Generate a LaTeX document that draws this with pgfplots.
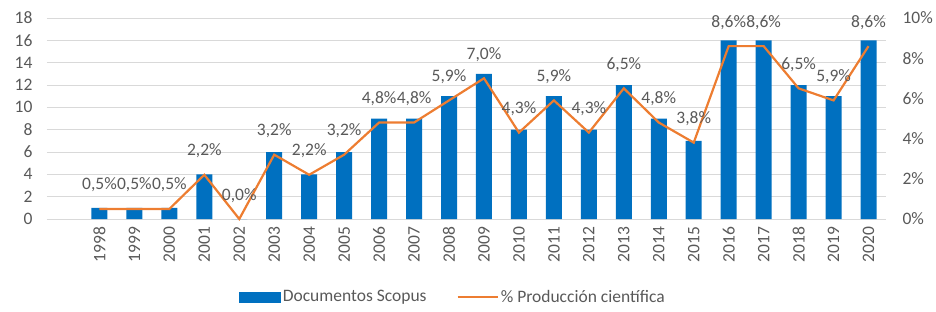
\documentclass[border=0pt]{standalone}
\usepackage{pgfplots}
\usepackage{pgfplotstable}
\pgfplotsset{compat=1.18}
\usepackage{fontspec}
\setmainfont{Carlito}
\definecolor{barblue}{HTML}{0070C0}
\definecolor{lineor}{HTML}{ED7D31}
\definecolor{txt}{HTML}{595959}
\definecolor{gridc}{HTML}{D9D9D9}

\pgfplotstableread{
x year docs pct
0 1998 1 0.5
1 1999 1 0.5
2 2000 1 0.5
3 2001 4 2.2
4 2002 0 0.0
5 2003 6 3.2
6 2004 4 2.2
7 2005 6 3.2
8 2006 9 4.8
9 2007 9 4.8
10 2008 11 5.9
11 2009 13 7.0
12 2010 8 4.3
13 2011 11 5.9
14 2012 8 4.3
15 2013 12 6.5
16 2014 9 4.8
17 2015 7 3.8
18 2016 16 8.6
19 2017 16 8.6
20 2018 12 6.5
21 2019 11 5.9
22 2020 16 8.6
}\data

\begin{document}
\begin{tikzpicture}[font=\fontsize{17.5}{20}\selectfont]
\useasboundingbox (0pt,0pt) rectangle (936pt,311pt);
\begin{axis}[
  at={(47pt,92pt)}, anchor=south west,
  scale only axis, width=839pt, height=201pt,
  xmin=-1.5, xmax=22.5, ymin=0, ymax=18,
  ytick={0,2,...,18},
  xtick={0,...,22},
  xticklabels from table={\data}{year},
  axis x line*=bottom, axis y line*=left,
  x axis line style={draw=gridc, line width=1pt, -},
  y axis line style={draw=none},
  ymajorgrids, grid style={draw=gridc, line width=1pt},
  major tick length=0pt,
  tick label style={text=txt, font=\fontsize{17.5}{20}\selectfont},
  /pgf/number format/assume math mode=true,
  x tick label style={rotate=90, anchor=east},
  xticklabel shift=4pt,
  yticklabel shift=11pt,
]
\addplot[ybar, bar width=16pt, fill=barblue, draw=none] table[x=x, y=docs]{\data};
\end{axis}
\begin{axis}[
  at={(47pt,92pt)}, anchor=south west,
  scale only axis, width=839pt, height=201pt,
  xmin=-1.5, xmax=22.5, ymin=0, ymax=10,
  ytick={0,2,...,10},
  axis y line*=right, axis x line=none,
  y axis line style={draw=none},
  major tick length=0pt,
  tick label style={text=txt, font=\fontsize{17.5}{20}\selectfont},
  /pgf/number format/assume math mode=true,
  yticklabel={\pgfmathprintnumber{\tick}\%},
  yticklabel shift=13pt,
  clip=false,
  legend style={at={(0.484,-0.388)}, anchor=center, draw=none, fill=none,
    legend columns=2, text=txt, font=\fontsize{17.5}{20}\selectfont,
    /tikz/every even column/.style={column sep=28pt},
    nodes={inner sep=2pt}},
]
\addlegendimage{legend image code/.code={\fill[barblue] (0pt,-5pt) rectangle (41pt,5pt);}}
\addlegendentry{Documentos Scopus}
\addplot[lineor, line width=2.2pt, mark=none, point meta=y,
  legend image code/.code={\draw[lineor, line width=2.2pt] (0pt,0pt) -- (40pt,0pt);},
  nodes near coords={\pgfmathprintnumber[fixed, fixed zerofill, precision=1, use comma, assume math mode=true]{\pgfplotspointmeta}\%},
  every node near coord/.style={anchor=base, yshift=19pt, text=txt, font=\fontsize{17.5}{20}\selectfont, inner sep=0pt},
] table[x=x, y=pct]{\data};
\addlegendentry{\% Producción científica}
\end{axis}
\end{tikzpicture}
\end{document}
